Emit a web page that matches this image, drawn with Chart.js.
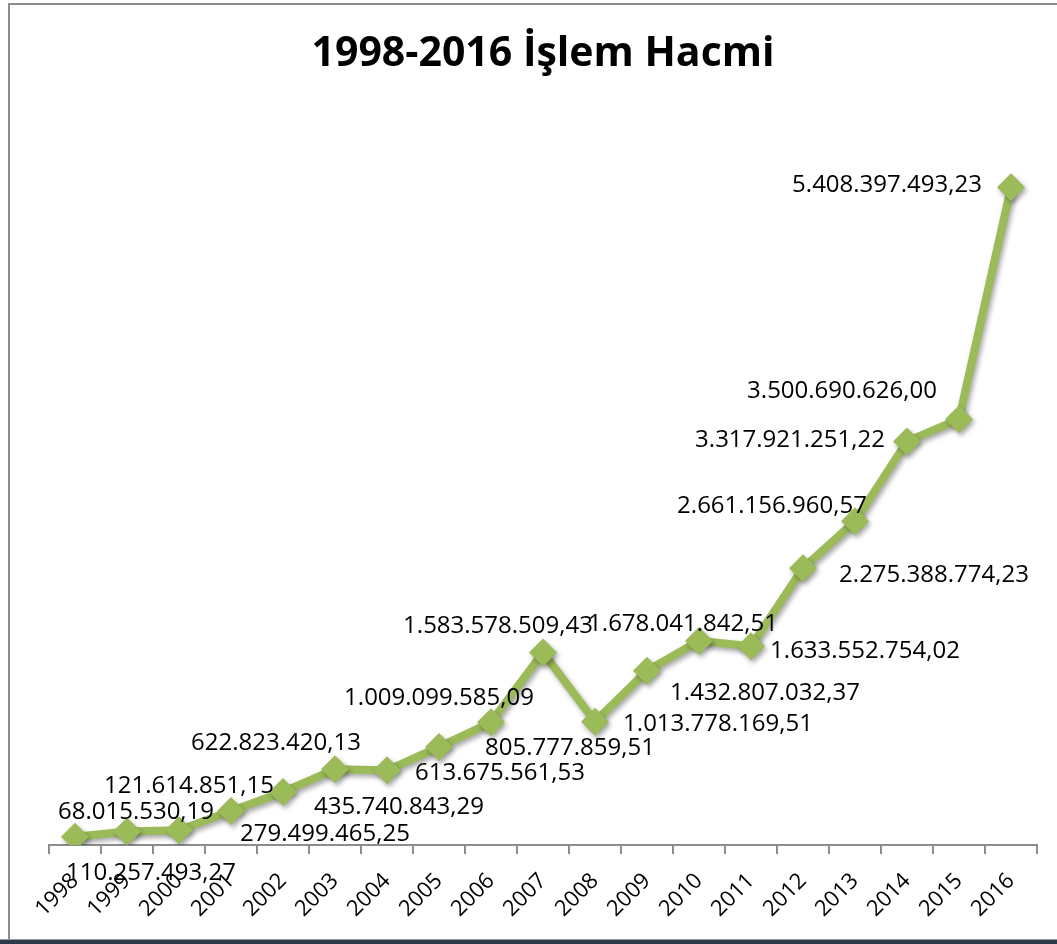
<!DOCTYPE html>
<html>
<head>
<meta charset="utf-8">
<script src="https://cdn.jsdelivr.net/npm/chart.js@4/dist/chart.umd.min.js"></script>
<style>
  body { margin: 0; background: #fff; }
  #wrap { position: relative; width: 1057px; height: 944px; overflow: hidden; }
  #frameTop { position: absolute; left: 8px; top: 3px; width: 1049px; height: 2px; background: #8c8c8c; }
  #frameLeft { position: absolute; left: 8px; top: 3px; width: 2px; height: 937px; background: #8c8c8c; }
  #frameBottom { position: absolute; left: 0; top: 939px; width: 1057px; height: 5px; background: #2c3a4a; border-top: 1px solid #9a9a9a; }
</style>
</head>
<body>
<div id="wrap">
  <canvas id="lineChart"></canvas>
  <div id="frameTop"></div>
  <div id="frameLeft"></div>
  <div id="frameBottom"></div>
</div>
<script>
const years = ['1998', '1999', '2000', '2001', '2002', '2003', '2004', '2005', '2006', '2007',
               '2008', '2009', '2010', '2011', '2012', '2013', '2014', '2015', '2016'];
const volumes = [
    68015530.19, 110257493.27, 121614851.15, 279499465.25, 435740843.29,
    622823420.13, 613675561.53, 805777859.51, 1009099585.09, 1583578509.43,
    1013778169.51, 1432807032.37, 1678041842.51, 1633552754.02, 2275388774.23,
    2661156960.57, 3317921251.22, 3500690626.00, 5408397493.23
];
// label offsets (px) from each point, labels were dragged around in the original
const labelOffsets = [
    [61, -25], [24, 42], [10, -44], [94, 23], [116, 15],
    [-59, -26], [113, 3], [131, 1], [-52, -24], [-45, -26],
    [123, 2], [118, 22], [-16, -17], [114, 5], [131, 7],
    [-83, -15], [-117, -1], [-117, -28], [-124, -2]
];

function trFormat(v) {
    const parts = v.toFixed(2).split('.');
    return parts[0].replace(/\B(?=(\d{3})+(?!\d))/g, '.') + ',' + parts[1];
}

// soft drop shadow under the line + markers
const shadowPlugin = {
    id: 'shadow',
    beforeDatasetsDraw(chart) {
        const c = chart.ctx;
        c.save();
        c.shadowColor = 'rgba(0,0,0,0.35)';
        c.shadowBlur = 5;
        c.shadowOffsetX = 2;
        c.shadowOffsetY = 3;
    },
    afterDatasetsDraw(chart) {
        chart.ctx.restore();
    }
};

const valueLabels = {
    id: 'valueLabels',
    afterDatasetsDraw(chart) {
        const c = chart.ctx;
        const meta = chart.getDatasetMeta(0);
        c.save();
        c.font = '24px "Open Sans"';
        c.fillStyle = '#000';
        c.textAlign = 'center';
        c.textBaseline = 'middle';
        meta.data.forEach((pt, i) => {
            const off = labelOffsets[i];
            c.fillText(trFormat(volumes[i]), pt.x + off[0], pt.y + off[1]);
        });
        c.restore();
    }
};

const ctx = document.getElementById('lineChart').getContext('2d');
const lineChart = new Chart(ctx, {
    type: 'line',
    data: {
        labels: years,
        datasets: [{
            label: 'İşlem Hacmi',
            data: volumes,
            borderColor: '#9bbb59',
            backgroundColor: '#9bbb59',
            borderWidth: 8,
            tension: 0,
            pointStyle: 'rectRot',
            pointRadius: 14,
            pointBorderWidth: 0,
            pointBackgroundColor: '#9bbb59'
        }]
    },
    options: {
        responsive: true,
        maintainAspectRatio: false,
        animation: false,
        layout: {
            padding: { left: 49, right: 20, top: 0, bottom: 0 }
        },
        plugins: {
            legend: { display: false },
            tooltip: { enabled: false },
            title: {
                display: true,
                text: '1998-2016 İşlem Hacmi',
                color: '#000',
                font: { family: '"Open Sans"', size: 41, weight: 'bold', lineHeight: 1.2 },
                padding: { top: 30, bottom: 36 }
            }
        },
        scales: {
            x: {
                offset: true,
                afterFit: (scale) => { scale.height = 99; },
                grid: {
                    offset: true,
                    drawOnChartArea: false,
                    drawTicks: true,
                    tickLength: 9,
                    color: '#8c8c8c',
                    lineWidth: 2
                },
                border: { display: true, color: '#8c8c8c', width: 2 },
                ticks: {
                    color: '#000',
                    font: { family: '"Open Sans"', size: 22 },
                    minRotation: 45,
                    maxRotation: 45,
                    autoSkip: false,
                    padding: 14
                }
            },
            y: {
                display: false,
                min: 0,
                max: 6000000000
            }
        }
    },
    plugins: [shadowPlugin, valueLabels]
});
</script>
</body>
</html>
